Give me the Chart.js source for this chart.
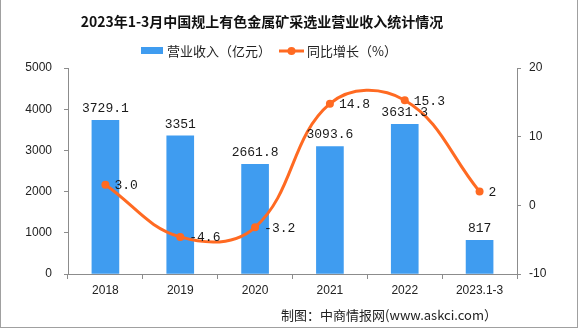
<!DOCTYPE html>
<html>
<head>
<meta charset="utf-8">
<script src="https://cdn.jsdelivr.net/npm/chart.js@4.4.0/dist/chart.umd.min.js"></script>
<style>
  html, body { margin: 0; padding: 0; background: #fff; }
  #wrap {
    position: relative; width: 578px; height: 328px; box-sizing: border-box;
    border-left: 1px solid #a0a0a0; border-right: 1px solid #a0a0a0; border-bottom: 1px solid #a0a0a0;
  }
  #chart { position: absolute; left: 0; top: 0; }
  #source {
    position: absolute; right: 80px; top: 305px;
    font: 13px "Noto Sans CJK SC", sans-serif; color: #222;
  }
</style>
</head>
<body>
<div id="wrap">
  <canvas id="chart" width="576" height="327"></canvas>
  <div id="source">制图：中商情报网(www.askci.com）</div>
</div>
<script>
// chart data
const categories = ['2018', '2019', '2020', '2021', '2022', '2023.1-3'];
const revenue = [3729.1, 3351, 2661.8, 3093.6, 3631.3, 817];
const revenueLabels = ['3729.1', '3351', '2661.8', '3093.6', '3631.3', '817'];
const growth = [3.0, -4.6, -3.2, 14.8, 15.3, 2];
const growthLabels = ['3.0', '-4.6', '-3.2', '14.8', '15.3', '2'];
const leftTicks = [0, 1000, 2000, 3000, 4000, 5000];
const rightTicks = [-10, 0, 10, 20];

const chartTitle = '2023年1-3月中国规上有色金属矿采选业营业收入统计情况';
const barName = '营业收入（亿元）';
const lineName = '同比增长（%）';

const BLUE = '#3f9cf0';
const ORANGE = '#ff6a22';
const AXIS = '#8c8c8c';
const CJK = '"Noto Sans CJK SC", sans-serif';

// title and legend, drawn at fixed spots like the original
const header = {
  id: 'header',
  afterDraw(chart) {
    const ctx = chart.ctx;
    ctx.save();
    ctx.fillStyle = '#111';
    ctx.font = 'bold 14px ' + CJK;
    ctx.textAlign = 'center';
    ctx.textBaseline = 'middle';
    ctx.fillText(chartTitle, 261, 22);

    // legend
    ctx.font = '13px ' + CJK;
    ctx.textAlign = 'left';
    ctx.fillStyle = BLUE;
    ctx.fillRect(140, 47, 22, 7);
    ctx.fillStyle = '#222';
    ctx.fillText(barName, 166, 51);

    ctx.strokeStyle = ORANGE;
    ctx.lineWidth = 3;
    ctx.beginPath(); ctx.moveTo(278, 51); ctx.lineTo(303, 51); ctx.stroke();
    ctx.fillStyle = ORANGE;
    ctx.beginPath(); ctx.arc(290.5, 51, 4, 0, Math.PI * 2); ctx.fill();
    ctx.fillStyle = '#222';
    ctx.fillText(lineName, 306, 51);
    ctx.restore();
  }
};

// draws the value labels next to bars and points
const valueLabels = {
  id: 'valueLabels',
  afterDatasetsDraw(chart) {
    const ctx = chart.ctx;
    ctx.save();
    ctx.font = '13px "Liberation Mono", monospace';
    ctx.fillStyle = '#1a1a1a';
    ctx.textAlign = 'center';
    ctx.textBaseline = 'bottom';
    chart.getDatasetMeta(1).data.forEach((el, i) => {
      ctx.fillText(revenueLabels[i], el.x, el.y - 5);
    });
    ctx.textAlign = 'left';
    ctx.textBaseline = 'middle';
    chart.getDatasetMeta(0).data.forEach((el, i) => {
      ctx.fillText(growthLabels[i], el.x + 9, el.y + 1);
    });
    ctx.restore();
  }
};

const tickFont = { family: '"Liberation Sans", sans-serif', size: 12 };
const plain = v => String(v);

new Chart(document.getElementById('chart'), {
  data: {
    labels: categories,
    datasets: [
      {
        type: 'line',
        label: lineName,
        data: growth,
        yAxisID: 'y1',
        borderColor: ORANGE,
        backgroundColor: ORANGE,
        borderWidth: 3,
        pointRadius: 4,
        pointBackgroundColor: ORANGE,
        pointBorderWidth: 0,
        tension: 0.4,
        order: 0
      },
      {
        type: 'bar',
        label: barName,
        data: revenue,
        yAxisID: 'y',
        backgroundColor: BLUE,
        barThickness: 27,
        order: 1
      }
    ]
  },
  options: {
    responsive: false,
    animation: false,
    layout: { padding: { left: 0, right: 0, top: 68, bottom: 0 } },
    plugins: {
      title: { display: false },
      legend: { display: false },
      tooltip: { enabled: false }
    },
    scales: {
      x: {
        offset: true,
        grid: { display: true, drawOnChartArea: false, offset: true, tickLength: 5, color: AXIS },
        border: { color: AXIS },
        ticks: { color: '#222', font: tickFont, padding: 4, maxRotation: 0 },
        afterFit: s => { s.height = 53; }
      },
      y: {
        position: 'left',
        min: 0, max: 5000,
        afterBuildTicks: s => { s.ticks = leftTicks.map(v => ({ value: v })); },
        grid: { display: true, drawOnChartArea: false, tickLength: 4, color: AXIS },
        border: { color: AXIS },
        ticks: { color: '#222', font: tickFont, padding: 12, callback: plain },
        afterFit: s => { s.width = 67; }
      },
      y1: {
        position: 'right',
        min: -10, max: 20,
        afterBuildTicks: s => { s.ticks = rightTicks.map(v => ({ value: v })); },
        grid: { display: true, drawOnChartArea: false, tickLength: 4, color: AXIS },
        border: { color: AXIS },
        ticks: { color: '#222', font: tickFont, padding: 8, callback: plain },
        afterFit: s => { s.width = 60; }
      }
    }
  },
  plugins: [valueLabels, header]
});
</script>
</body>
</html>
